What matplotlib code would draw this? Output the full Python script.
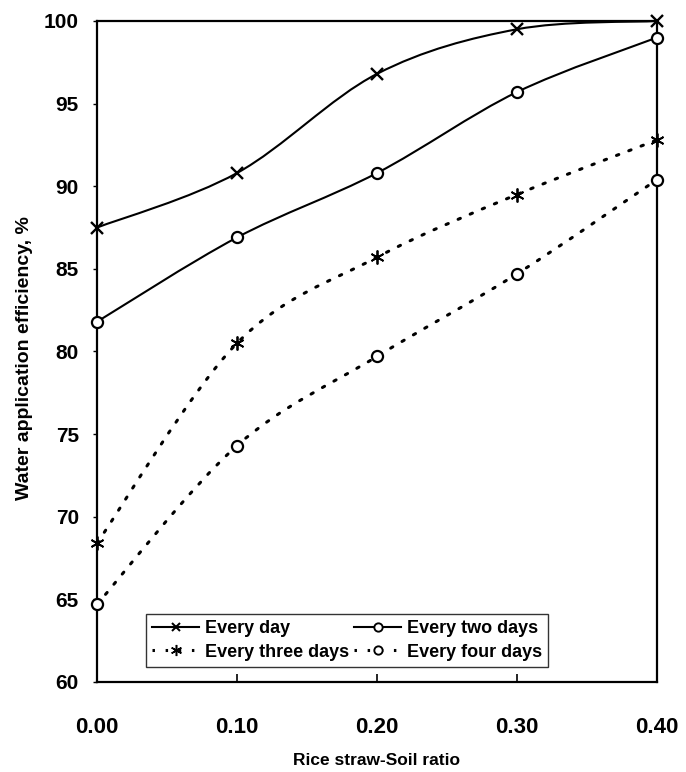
import numpy as np
import matplotlib
matplotlib.use('Agg')
import matplotlib.pyplot as plt
from matplotlib.path import Path
from matplotlib.patches import PathPatch
from matplotlib.lines import Line2D

plt.rcParams['font.family'] = ['Liberation Sans', 'DejaVu Sans']

# data
ratio = [0.00, 0.10, 0.20, 0.30, 0.40]
every_day = [87.5, 90.8, 96.8, 99.5, 100.0]
every_two_days = [81.8, 86.9, 90.8, 95.7, 99.0]
every_three_days = [68.4, 80.5, 85.7, 89.5, 92.8]
every_four_days = [64.7, 74.3, 79.7, 84.7, 90.4]

labels = ['Every day', 'Every two days', 'Every three days', 'Every four days']
x_ticks = [0.00, 0.10, 0.20, 0.30, 0.40]
y_ticks = [60, 65, 70, 75, 80, 85, 90, 95, 100]


def smooth_path(xs, ys):
    # Excel-like smoothed line: Bezier segments with Catmull-Rom control points
    pts = np.column_stack([xs, ys])
    n = len(pts)
    verts = [pts[0]]
    codes = [Path.MOVETO]
    for i in range(n - 1):
        p_prev = pts[i - 1] if i > 0 else pts[i]
        p_next2 = pts[i + 2] if i + 2 < n else pts[i + 1]
        c1 = pts[i] + (pts[i + 1] - p_prev) / 6.0
        c2 = pts[i + 1] - (p_next2 - pts[i]) / 6.0
        verts += [c1, c2, pts[i + 1]]
        codes += [Path.CURVE4] * 3
    return Path(verts, codes)


fig = plt.figure(figsize=(6.86, 7.72), dpi=100)
ax = fig.add_axes([0.1414, 0.1166, 0.8163, 0.8562])

dotted = (0, (0.8, 3.5))
star = (6, 2, 0)
series = [
    (every_day, 'x', '-', 8, 1.7),
    (every_two_days, 'o', '-', 8, 1.6),
    (every_three_days, star, dotted, 10, 1.3),
    (every_four_days, 'o', dotted, 8, 1.6),
]

handles = []
for (vals, mk, ls, ms, mew), lab in zip(series, labels):
    lw = 1.5 if ls == '-' else 2.2
    patch = PathPatch(smooth_path(ratio, vals), facecolor='none', edgecolor='black',
                      linewidth=lw, linestyle=ls, capstyle='round')
    ax.add_patch(patch)
    ax.plot(ratio, vals, linestyle='none', marker=mk, markersize=ms,
            markeredgewidth=mew, markeredgecolor='black', markerfacecolor='white',
            clip_on=False, zorder=3)
    handles.append(Line2D([], [], color='black', linestyle=ls, linewidth=lw,
                          marker=mk, markersize=ms - 2, markeredgewidth=mew * 0.85,
                          markerfacecolor='white', label=lab))

ax.set_xlim(0, 0.4)
ax.set_ylim(60, 100)
ax.set_xticks(x_ticks)
ax.set_xticklabels([f'{v:.2f}' for v in x_ticks])
ax.set_yticks(y_ticks)
ax.tick_params(axis='x', direction='in', length=6, width=1.2, pad=25, labelsize=16)
ax.tick_params(axis='y', direction='out', length=3, width=1, pad=10, labelsize=15)
for lbl in ax.get_xticklabels() + ax.get_yticklabels():
    lbl.set_fontweight('bold')
for sp in ax.spines.values():
    sp.set_linewidth(1.6)

ax.set_xlabel('Rice straw-Soil ratio', fontsize=12.5, fontweight='bold')
ax.set_ylabel('Water application efficiency, %', fontsize=14, fontweight='bold')
ax.xaxis.set_label_coords(0.5, -0.108)
ax.yaxis.set_label_coords(-0.115, 0.49)

# matplotlib fills legend columns first, so order handles for row-wise reading
order = [0, 2, 1, 3]
leg = ax.legend(handles=[handles[i] for i in order], ncol=2, loc='lower left',
                bbox_to_anchor=(0.0875, 0.0227), borderaxespad=0,
                frameon=True, fancybox=False, edgecolor='black',
                prop={'size': 13, 'weight': 'bold'},
                handlelength=2.6, handletextpad=0.3, columnspacing=0.3,
                borderpad=0.35, labelspacing=0.35)
leg.get_frame().set_linewidth(1.0)

fig.savefig('out.png', dpi=100)
